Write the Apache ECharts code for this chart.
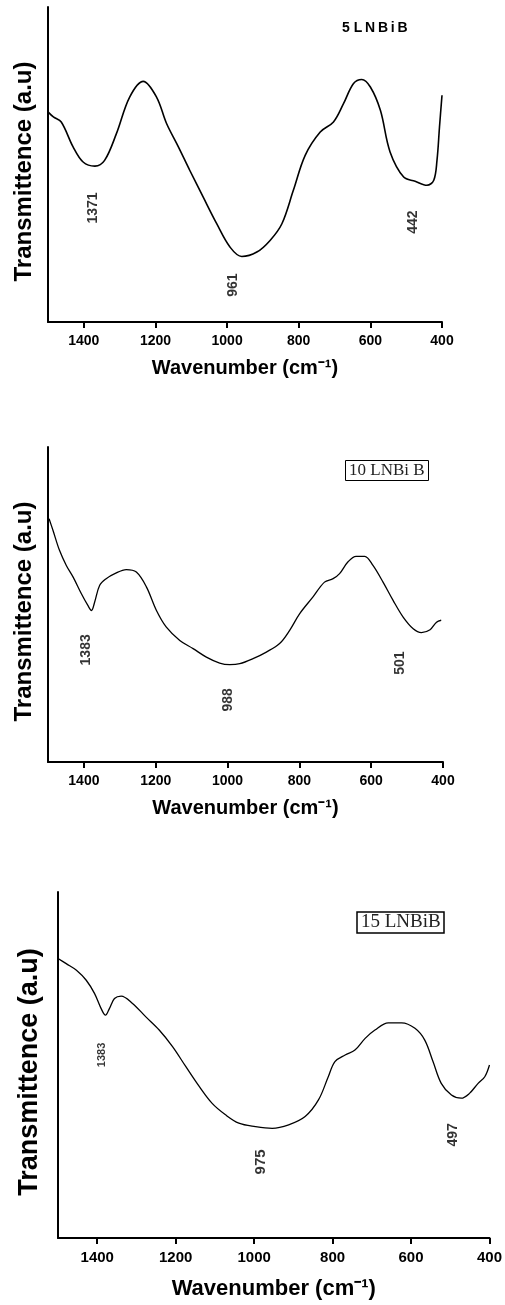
<!DOCTYPE html>
<html>
<head>
<meta charset="utf-8">
<script src="https://cdn.jsdelivr.net/npm/echarts@6/dist/echarts.min.js"></script>
<style>
  html, body { margin: 0; padding: 0; background: #fff; }
  #main { width: 505px; height: 1305px; }
</style>
</head>
<body>
<div id="main"></div>
<script>
// 5 LNBiB
var wn5 = [1500, 1485, 1463, 1430, 1402, 1369, 1342, 1309, 1272, 1234, 1197, 1169, 1136, 1104, 1067, 1029, 992, 959, 917, 880, 847, 815, 782, 740, 703, 675, 647, 624, 600, 572, 545, 507, 475, 442, 423, 414, 407, 400]
var t5 = [66.7, 65.1, 63.5, 55.6, 50.8, 49.5, 51.3, 59.8, 71.4, 76.4, 71.4, 63.0, 55.6, 48.1, 39.7, 31.2, 23.8, 20.8, 22.2, 25.9, 31.2, 41.8, 52.9, 60.3, 63.5, 69.3, 75.7, 77.0, 74.6, 67.2, 54.0, 46.0, 44.7, 43.4, 45.0, 51.3, 61.9, 72.0]
var peaks5 = [[1375, 36.2, '1371'], [983, 11.7, '961'], [480, 31.7, '442']]

// 10 LNBi B
var wn10 = [1497, 1486, 1468, 1449, 1430, 1407, 1389, 1379, 1370, 1356, 1338, 1314, 1282, 1254, 1226, 1198, 1171, 1133, 1096, 1059, 1022, 994, 966, 929, 892, 855, 827, 799, 762, 730, 706, 688, 665, 642, 618, 595, 567, 539, 511, 483, 460, 436, 418, 405]
var t10 = [77.2, 73.5, 67.2, 62.4, 58.7, 53.4, 49.7, 48.1, 50.8, 56.1, 58.2, 59.8, 61.1, 60.3, 55.6, 48.1, 42.9, 38.6, 36.0, 33.3, 31.4, 30.9, 31.2, 32.8, 34.9, 37.6, 41.8, 47.1, 52.4, 57.1, 58.2, 59.8, 63.5, 65.3, 65.3, 62.4, 57.1, 51.3, 46.0, 42.3, 41.1, 42.0, 44.4, 45.0]
var peaks10 = [[1395, 35.6, '1383'], [999, 19.7, '988'], [520, 31.4, '501']]

// 15 LNBiB
var wn15 = [1500, 1479, 1453, 1428, 1407, 1390, 1379, 1369, 1356, 1339, 1310, 1276, 1242, 1208, 1174, 1140, 1107, 1073, 1039, 997, 954, 912, 870, 836, 811, 794, 768, 743, 717, 692, 658, 624, 590, 565, 544, 523, 497, 472, 451, 429, 412, 400]
var t15 = [80.8, 79.3, 77.4, 74.5, 70.7, 66.3, 64.4, 66.3, 69.2, 69.9, 67.8, 63.9, 60.1, 55.3, 49.5, 43.8, 38.9, 35.6, 33.2, 32.2, 31.7, 32.7, 35.1, 39.9, 46.6, 51.0, 52.9, 54.3, 57.7, 60.1, 62.2, 62.2, 60.6, 57.2, 51.0, 44.7, 41.3, 40.4, 41.8, 44.7, 46.6, 50.0]
var peaks15 = [[1389, 52.9, '1383'], [983, 22.0, '975'], [493, 29.8, '497']]

var tickVals = [1400, 1200, 1000, 800, 600, 400]

function zip(xs, ys) {
    return xs.map(function (x, i) { return [x, ys[i]] })
}

var grids = [
    { left: 48, top: 7, width: 394, height: 315 },
    { left: 48, top: 447, width: 395, height: 315 },
    { left: 58, top: 892, width: 434, height: 346 }
]
// per panel text sizes / gaps
var xNameSize = [20, 20, 22], xGaps = [36, 36, 40]
var yNameSize = [24, 24, 27], yGaps = [12, 12, 15]
var tickSize = [14, 14, 15]

var font = 'Liberation Sans'
var xAxes = [], yAxes = []
grids.forEach(function (g, i) {
    xAxes.push({
        type: 'value', gridIndex: i, min: 400, max: 1500, inverse: true,
        name: 'Wavenumber (cm\u207B\u00B9)', nameLocation: 'middle', nameGap: xGaps[i],
        nameTextStyle: { fontFamily: font, fontWeight: 'bold', fontSize: xNameSize[i], color: '#000' },
        axisLine: { show: true, onZero: false, lineStyle: { color: '#000', width: 2 } },
        axisTick: { show: true, length: 6, customValues: tickVals, lineStyle: { color: '#000', width: 2 } },
        axisLabel: {
            show: true, customValues: tickVals, margin: 12,
            formatter: function (v) { return String(v) },
            fontFamily: font, fontWeight: 'bold', fontSize: tickSize[i], color: '#000'
        },
        splitLine: { show: false }
    })
    yAxes.push({
        type: 'value', gridIndex: i, min: 0, max: 100,
        name: 'Transmittence (a.u)', nameLocation: 'middle', nameGap: yGaps[i],
        nameTextStyle: { fontFamily: font, fontWeight: 'bold', fontSize: yNameSize[i], color: '#000', padding: [0, 14, 0, 0] },
        axisLine: { show: true, onZero: false, lineStyle: { color: '#000', width: 2 } },
        axisTick: { show: false },
        axisLabel: { show: false },
        splitLine: { show: false }
    })
})

function curve(i, xs, ys, w) {
    return {
        type: 'line', xAxisIndex: i, yAxisIndex: i, data: zip(xs, ys),
        smooth: 0.35, showSymbol: false, symbol: 'none',
        lineStyle: { color: '#000', width: w }
    }
}

function peakLabels(i, pts, sizes) {
    return {
        type: 'scatter', xAxisIndex: i, yAxisIndex: i,
        data: pts.map(function (p, k) {
            return { value: p, label: { fontSize: sizes[k] } }
        }),
        symbolSize: 0, silent: true,
        label: {
            show: true, position: 'inside', rotate: 90,
            formatter: function (p) { return p.value[2] },
            fontFamily: font, fontWeight: 'bold', color: '#000'
        }
    }
}

var option = {
    animation: false,
    backgroundColor: '#fff',
    title: [
        { text: '5 L\u2009N\u2009B\u2009i\u2009B', left: 342, top: 21, padding: 0,
          textStyle: { fontFamily: font, fontWeight: 'bold', fontSize: 14, color: '#000' } },
        { text: '10 LNBi B', left: 345, top: 460, padding: [2, 4], borderWidth: 1, borderColor: '#000',
          textStyle: { fontFamily: 'Liberation Serif', fontWeight: 'normal', fontSize: 17, color: '#222' } },
        { text: '15 LNBiB', left: 357, top: 912, padding: [1, 4], borderWidth: 1.5, borderColor: '#000',
          textStyle: { fontFamily: 'Liberation Serif', fontWeight: 'normal', fontSize: 19, color: '#222' } }
    ],
    grid: grids,
    xAxis: xAxes,
    yAxis: yAxes,
    series: [
        curve(0, wn5, t5, 1.6),
        curve(1, wn10, t10, 1.3),
        curve(2, wn15, t15, 1.3),
        peakLabels(0, peaks5, [14, 14, 14]),
        peakLabels(1, peaks10, [14, 14, 14]),
        peakLabels(2, peaks15, [11, 15, 14])
    ]
}

var myChart = echarts.init(document.getElementById('main'))
myChart.setOption(option)
</script>
</body>
</html>
